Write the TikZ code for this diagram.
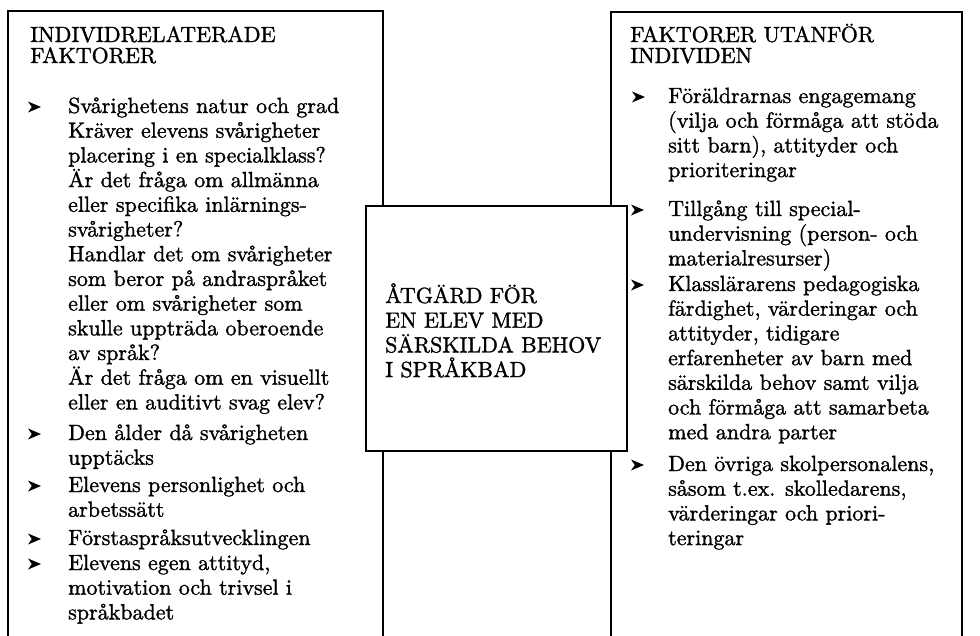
\documentclass[tikz,border=0pt]{standalone}
\usepackage{fontspec}
\setmainfont{lmroman10-regular.otf}[FakeBold=1.3]
% a block of left-aligned lines whose reference point is the first baseline
\newcommand\lineblock[2]{\vtop{\lineskiplimit=-100pt\lineskip=0pt\baselineskip=#1\halign{##\hfil\cr#2\crcr}}}
\begin{document}
\begin{tikzpicture}[x=1pt,y=-1pt,
  frame/.style={draw=black, line width=1.8pt, inner sep=0pt, outer sep=0pt, anchor=north west},
  txt/.style={anchor=base west, inner sep=0pt, font=\fontsize{22}{24.7}\selectfont},
  arrowbullet/.pic={\fill (0,-5.5) -- (13,0) -- (0,5.5) -- (3.8,0) -- cycle;},
]
\useasboundingbox (0,0) rectangle (980,635);

% the two side panels run past the lower edge, so they are clipped open there
\begin{scope}
  \clip (0,0) rectangle (980,635);
  \node[frame, minimum width=375pt, minimum height=660pt] (inner) at (8,11) {};
  \node[frame, minimum width=351pt, minimum height=660pt] (outer) at (611,12) {};
\end{scope}

% centre box drawn on top of both panels
\node[frame, fill=white, minimum width=261pt, minimum height=245pt] (centre) at (366,206) {};
\node[txt] (centretext) at (385,303) {\lineblock{24.7pt}{ÅTGÄRD FÖR\cr EN ELEV MED\cr SÄRSKILDA BEHOV\cr I SPRÅKBAD}};

% left panel
\node[txt] (innerhead) at (30,42) {\lineblock{21pt}{INDIVIDRELATERADE\cr FAKTORER}};

\pic at (28,107) {arrowbullet};
\node[txt] (i1) at (68,113) {\lineblock{24.7pt}{Svårighetens natur och grad\cr Kräver elevens svårigheter\cr placering i en specialklass?\cr Är det fråga om allmänna\cr eller specifika inlärnings-\cr svårigheter?\cr Handlar det om svårigheter\cr som beror på andraspråket\cr eller om svårigheter som\cr skulle uppträda oberoende\cr av språk?\cr Är det fråga om en visuellt\cr eller en auditivt svag elev?}};
\pic at (28,434) {arrowbullet};
\node[txt] (i2) at (68,440) {\lineblock{24.7pt}{Den ålder då svårigheten\cr upptäcks}};
\pic at (28,486) {arrowbullet};
\node[txt] (i3) at (68,492) {\lineblock{24.7pt}{Elevens personlighet och\cr arbetssätt}};
\pic at (28,539) {arrowbullet};
\node[txt] (i4) at (68,545) {Förstaspråksutvecklingen};
\pic at (28,564) {arrowbullet};
\node[txt] (i5) at (68,570) {\lineblock{24.7pt}{Elevens egen attityd,\cr motivation och trivsel i\cr språkbadet}};

% right panel
\node[txt] (outerhead) at (630,42) {\lineblock{21pt}{FAKTORER UTANFÖR\cr INDIVIDEN}};

\pic at (632,97) {arrowbullet};
\node[txt] (o1) at (668,103) {\lineblock{24.7pt}{Föräldrarnas engagemang\cr (vilja och förmåga att stöda\cr sitt barn), attityder och\cr prioriteringar}};
\pic at (631,210) {arrowbullet};
\node[txt] (o2) at (668,216) {\lineblock{24.7pt}{Tillgång till special-\cr undervisning (person- och\cr materialresurser)}};
\pic at (631,285) {arrowbullet};
\node[txt] (o3) at (668,291) {\lineblock{24.7pt}{Klasslärarens pedagogiska\cr färdighet, värderingar och\cr attityder, tidigare\cr erfarenheter av barn med\cr särskilda behov samt vilja\cr och förmåga att samarbeta\cr med andra parter}};
\pic at (631,465) {arrowbullet};
\node[txt] (o4) at (668,471) {\lineblock{24.7pt}{Den övriga skolpersonalens,\cr såsom t.ex. skolledarens,\cr värderingar och priori-\cr teringar}};
\end{tikzpicture}
\end{document}
